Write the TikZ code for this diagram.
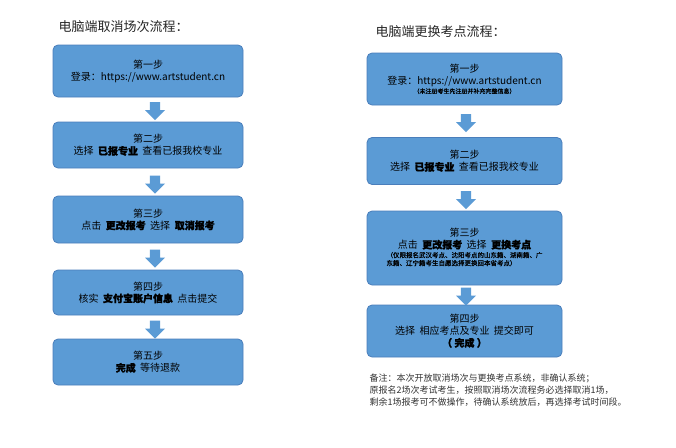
\documentclass[tikz,border=0pt]{standalone}
\usepackage{fontspec}
\setmainfont{Noto Sans CJK SC}
\newfontfamily\cjkb[FakeBold=1.5]{Noto Sans CJK SC}
\newfontfamily\cjks[FakeBold=0.6]{Noto Sans CJK SC}
\usetikzlibrary{shapes.arrows}
\definecolor{boxblue}{HTML}{5B9BD5}
\definecolor{boxedge}{HTML}{4A7EBB}
\tikzset{
 stepbox/.style={draw=boxedge,fill=boxblue,rounded corners=5pt,line width=0.8pt,minimum width=190pt,align=center,inner sep=3pt,font=\fontsize{10}{12}\selectfont,text=black},
 dnarrow/.style={single arrow,shape border rotate=270,fill=boxblue,draw=none,minimum height=18pt,minimum width=20pt,single arrow head extend=3pt,inner sep=3pt},
 ttl/.style={anchor=west,font=\fontsize{13}{15}\selectfont,text=black!85},
}
\newcommand{\bb}[1]{{\bfseries\cjkb #1}}
\begin{document}
\begin{tikzpicture}[x=1pt,y=-1pt]
\useasboundingbox[fill=white] (0,0) rectangle (676,447);
\node[ttl] (t1) at (55,27) {电脑端取消场次流程：};
\node[ttl] (t2) at (372,32) {电脑端更换考点流程：};
% left
\node[stepbox,minimum height=52pt] (l1) at (148,71) {第一步\\登录：https://www.artstudent.cn};
\node[stepbox,minimum height=46pt] (l2) at (148,145) {第二步\\选择\ \ \bb{已报专业}\ \ 查看已报我校专业};
\node[stepbox,minimum height=47pt] (l3) at (148,219.5) {第三步\\点击\ \ \bb{更改报考}\ \ 选择\ \ \bb{取消报考}};
\node[stepbox,minimum height=45pt] (l4) at (148,292.5) {第四步\\核实\ \ \bb{支付宝账户信息}\ \ 点击提交};
\node[stepbox,minimum height=46pt] (l5) at (148,362) {第五步\\\bb{完成}\ \ 等待退款};
\node[dnarrow] (la1) at (155,108.5) {};
\node[dnarrow] (la2) at (155,182) {};
\node[dnarrow] (la3) at (155,256) {};
\node[dnarrow] (la4) at (155,327) {};
% right
\node[stepbox,minimum height=52pt,minimum width=195pt] (r1) at (464.5,79) {第一步\\登录：https://www.artstudent.cn\\[-3pt]{\fontsize{6}{7}\selectfont\cjks （未注册考生先注册并补充完整信息）}};
\node[stepbox,minimum height=47pt,minimum width=195pt] (r2) at (464.5,161) {第二步\\选择\ \ \bb{已报专业}\ \ 查看已报我校专业};
\node[stepbox,minimum height=74pt,minimum width=195pt] (r3) at (464.5,248) {第三步\\点击\ \ \bb{更改报考}\ \ 选择\ \ \bb{更换考点}\\[1pt]{\fontsize{6.5}{8}\selectfont\cjks\begin{tabular}{@{}l@{}}（仅限报名武汉考点、沈阳考点的山东籍、湖南籍、广\\东籍、辽宁籍考生自愿选择更换回本省考点）\end{tabular}}};
\node[stepbox,minimum height=52pt,minimum width=195pt] (r4) at (464.5,331) {第四步\\选择\ \ 相应考点及专业\ \ 提交即可\\\bb{（ 完成 ）}};
\node[dnarrow] (ra1) at (466,120.5) {};
\node[dnarrow] (ra2) at (466,197.5) {};
\node[dnarrow] (ra3) at (466,294) {};
\node[anchor=north west,align=left,font=\fontsize{9}{12}\selectfont,text=black!80] (note) at (366,370) {备注：本次开放取消场次与更换考点系统，非确认系统；\\原报名2场次考试考生，按照取消场次流程务必选择取消1场，\\剩余1场报考可不做操作，待确认系统放后，再选择考试时间段。};
\end{tikzpicture}
\end{document}
